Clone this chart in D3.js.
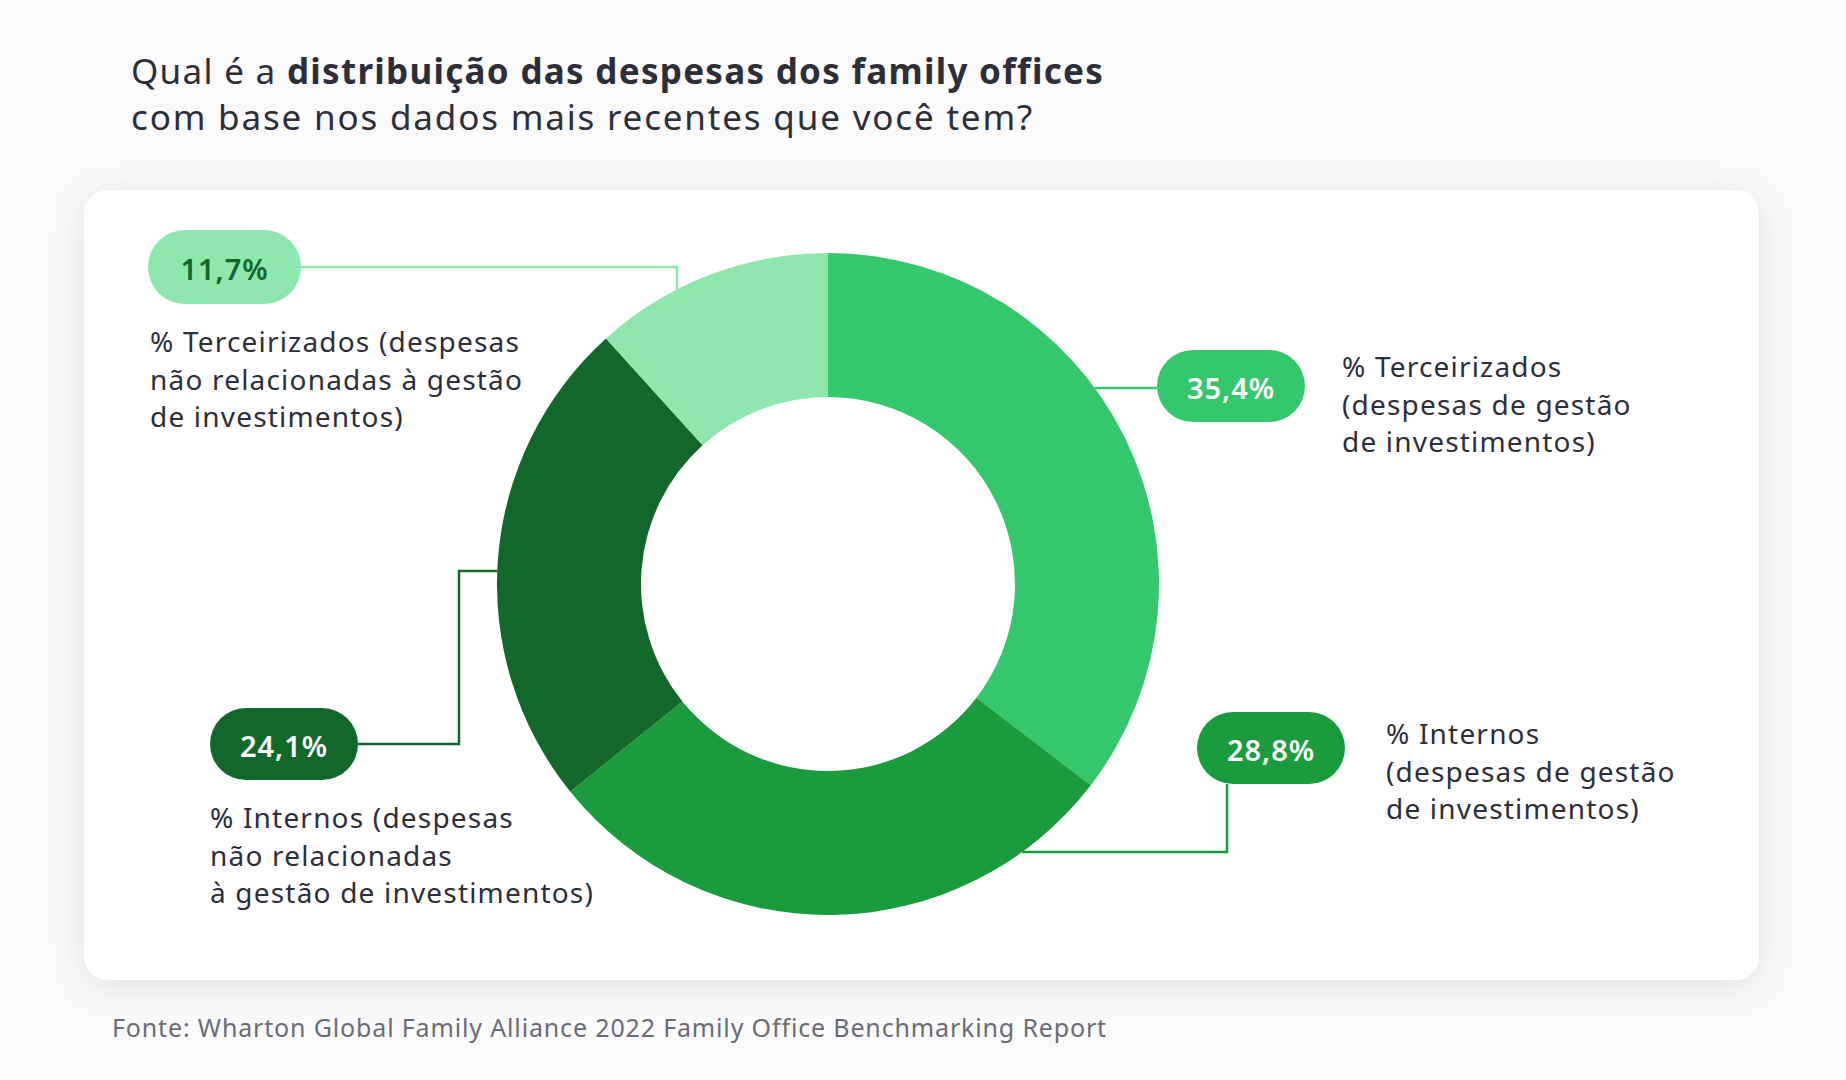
<!DOCTYPE html>
<html>
<head>
<meta charset="utf-8">
<script src="https://cdn.jsdelivr.net/npm/d3@7"></script>
<style>
  html, body { margin: 0; padding: 0; background: #fafafa; }
  svg { display: block; }
</style>
</head>
<body>
<svg id="chart" width="1846" height="1080"></svg>
<script>
// ---- data ----
const categories = [
  "% Terceirizados (despesas de gestão de investimentos)",
  "% Internos (despesas de gestão de investimentos)",
  "% Internos (despesas não relacionadas à gestão de investimentos)",
  "% Terceirizados (despesas não relacionadas à gestão de investimentos)"
];
const values = [35.4, 28.8, 24.1, 11.7];
const valueLabels = ["35,4%", "28,8%", "24,1%", "11,7%"];
const labelLines = [
  ["% Terceirizados", "(despesas de gestão", "de investimentos)"],
  ["% Internos", "(despesas de gestão", "de investimentos)"],
  ["% Internos (despesas", "não relacionadas", "à gestão de investimentos)"],
  ["% Terceirizados (despesas", "não relacionadas à gestão", "de investimentos)"]
];
const colors = ["#34c76b", "#1a9b3d", "#14672a", "#8ee8ae"];
const pillTextColors = ["#ffffff", "#ffffff", "#ffffff", "#14672a"];
const titleRegular1 = "Qual é a ";
const titleBold = "distribuição das despesas dos family offices";
const titleLine2 = "com base nos dados mais recentes que você tem?";
const sourceText = "Fonte: Wharton Global Family Alliance 2022 Family Office Benchmarking Report";

// ---- layout ----
const W = 1846, H = 1080;
const cx = 828, cy = 584, rOuter = 331, rInner = 187;
const FONT = "'Noto Sans', Roboto, sans-serif";
const textColor = "#2e2e38";

const svg = d3.select("#chart");
const defs = svg.append("defs");
const f = defs.append("filter").attr("id", "shadow").attr("x", "-10%").attr("y", "-10%").attr("width", "120%").attr("height", "125%");
f.append("feDropShadow").attr("dx", 0).attr("dy", 6).attr("stdDeviation", 18)
  .attr("flood-color", "#000").attr("flood-opacity", 0.10);

// fit letter-spacing so text reaches a target width
function fitSpacing(sel, target) {
  sel.attr("letter-spacing", 0);
  const w = sel.node().getComputedTextLength();
  const n = sel.text().length;
  return Math.max(-1, (target - w) / n);
}

// card
svg.append("rect").attr("x", 84).attr("y", 190).attr("width", 1675).attr("height", 790)
  .attr("rx", 24).attr("fill", "#ffffff").attr("filter", "url(#shadow)");

// title
const t1 = svg.append("text").attr("x", 131).attr("y", 84)
  .attr("font-family", FONT).attr("font-size", 35).attr("fill", textColor);
t1.append("tspan").text(titleRegular1);
t1.append("tspan").attr("font-weight", 700).text(titleBold);
const t2 = svg.append("text").attr("x", 131).attr("y", 130)
  .attr("font-family", FONT).attr("font-size", 35).attr("fill", textColor).text(titleLine2);
t1.attr("letter-spacing", fitSpacing(t1, 973));
t2.attr("letter-spacing", fitSpacing(t2, 903));

// donut
const pie = d3.pie().sort(null).value(d => d).startAngle(0).endAngle(2 * Math.PI);
const arcs = pie(values);
const arc = d3.arc().innerRadius(rInner).outerRadius(rOuter);
const g = svg.append("g").attr("transform", `translate(${cx},${cy})`);
g.selectAll("path").data(arcs).enter().append("path")
  .attr("d", arc).attr("fill", (d, i) => colors[i]);

// helper: points on outer circle
const edgeX = (y, side) => cx + side * Math.sqrt(rOuter * rOuter - (y - cy) * (y - cy));
const edgeY = (x, side) => cy + side * Math.sqrt(rOuter * rOuter - (x - cx) * (x - cx));

const pills = [
  {x: 1157, y: 350, w: 148, h: 72},
  {x: 1197, y: 712, w: 148, h: 72},
  {x: 210,  y: 708, w: 148, h: 72},
  {x: 148,  y: 230, w: 153, h: 74}
];
const textPos = [
  {x: 1342, y: 377},
  {x: 1386, y: 744},
  {x: 210,  y: 828},
  {x: 150,  y: 352}
];

// leader lines
const leaders = [];
{
  const y = pills[0].y + pills[0].h / 2 + 2;
  leaders.push([[pills[0].x, y], [edgeX(y, 1), y]]);
}
{
  const x = 1227, yb = 852;
  leaders.push([[x, pills[1].y + pills[1].h], [x, yb], [edgeX(yb, 1), yb]]);
}
{
  const y0 = pills[2].y + pills[2].h / 2, xv = 459, y1 = 571;
  leaders.push([[pills[2].x + pills[2].w, y0], [xv, y0], [xv, y1], [edgeX(y1, -1), y1]]);
}
{
  const y0 = pills[3].y + pills[3].h / 2, xv = 677;
  leaders.push([[pills[3].x + pills[3].w, y0], [xv, y0], [xv, edgeY(xv, -1)]]);
}
const line = d3.line();
svg.selectAll("path.leader").data(leaders).enter().append("path")
  .attr("class", "leader").attr("d", d => line(d)).attr("fill", "none")
  .attr("stroke", (d, i) => colors[i]).attr("stroke-width", 2.5);

// pills
const pg = svg.selectAll("g.pill").data(valueLabels).enter().append("g").attr("class", "pill");
pg.append("rect")
  .attr("x", (d, i) => pills[i].x).attr("y", (d, i) => pills[i].y)
  .attr("width", (d, i) => pills[i].w).attr("height", (d, i) => pills[i].h)
  .attr("rx", (d, i) => pills[i].h / 2).attr("fill", (d, i) => colors[i]);
const pt = pg.append("text")
  .attr("x", (d, i) => pills[i].x + pills[i].w / 2).attr("y", (d, i) => pills[i].y + pills[i].h / 2 + 1)
  .attr("text-anchor", "middle").attr("dominant-baseline", "central")
  .attr("font-family", FONT).attr("font-weight", 600).attr("font-size", 29)
  .attr("fill", (d, i) => pillTextColors[i]).text(d => d);
pt.attr("letter-spacing", fitSpacing(d3.select(pt.nodes()[0]), 88));

// category labels
const labelTexts = [];
labelLines.forEach((lines, i) => {
  const t = svg.append("text").attr("font-family", FONT).attr("font-size", 28).attr("fill", textColor);
  lines.forEach((l, j) => {
    t.append("tspan").attr("x", textPos[i].x).attr("y", textPos[i].y + j * 37.7).text(l);
  });
  labelTexts.push(t);
});
const probe = svg.append("text").attr("font-family", FONT).attr("font-size", 28).text(labelLines[3][0]);
const lsLabel = fitSpacing(probe, 370);
probe.remove();
labelTexts.forEach(t => t.attr("letter-spacing", lsLabel));

// source
const src = svg.append("text").attr("x", 112).attr("y", 1037)
  .attr("font-family", FONT).attr("font-size", 25).attr("fill", "#6b6b75").text(sourceText);
src.attr("letter-spacing", fitSpacing(src, 995));
</script>
</body>
</html>
